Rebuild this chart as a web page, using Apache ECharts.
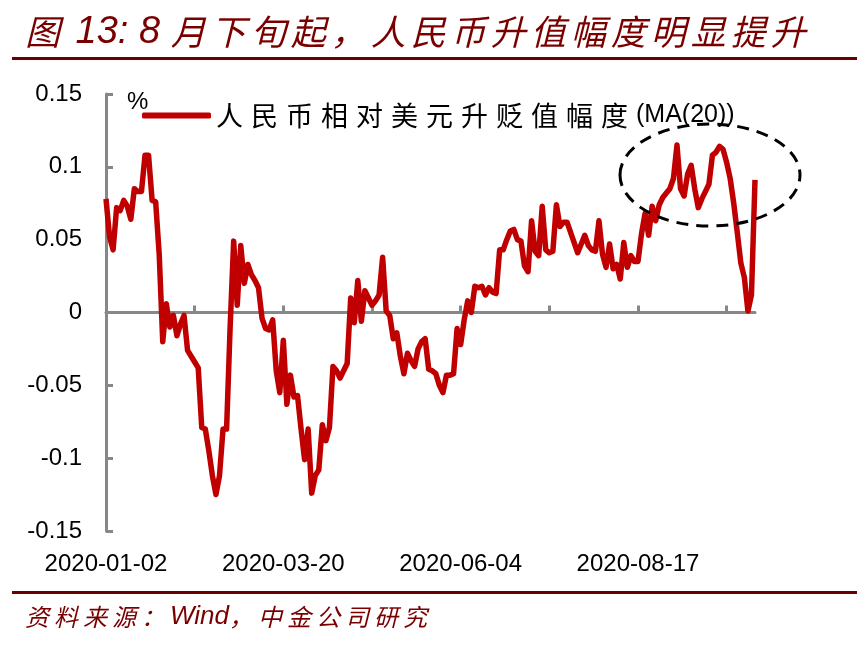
<!DOCTYPE html>
<html>
<head>
<meta charset="utf-8">
<script src="https://cdn.jsdelivr.net/npm/echarts@6/dist/echarts.min.js"></script>
<style>
html,body{margin:0;padding:0;background:#fff;}
#chart{width:867px;height:645px;}
</style>
</head>
<body>
<div id="chart"></div>
<script>
// ---- data ----
const seriesName = '人民币相对美元升贬值幅度(MA(20))';
const startDate = '2020-01-02';
const endDate = '2020-10-09';
const holidays = ['2020-01-01','2020-01-24','2020-01-27','2020-01-28','2020-01-29','2020-01-30','2020-01-31',
  '2020-04-06','2020-05-01','2020-05-04','2020-05-05','2020-06-25','2020-06-26',
  '2020-10-01','2020-10-02','2020-10-05','2020-10-06','2020-10-07','2020-10-08'];
const values = [
  0.078,0.052,0.043,0.072,0.070,0.077,0.073,0.064,0.085,0.083,
  0.083,0.108,0.108,0.077,0.076,0.040,-0.020,0.006,-0.010,-0.002,
  -0.016,-0.008,-0.002,-0.026,-0.030,-0.034,-0.038,-0.079,-0.080,-0.095,
  -0.112,-0.125,-0.112,-0.080,-0.080,-0.010,0.049,0.005,0.046,0.020,
  0.033,0.026,0.022,0.017,-0.004,-0.011,-0.012,-0.005,-0.040,-0.055,
  -0.019,-0.063,-0.043,-0.058,-0.057,-0.080,-0.101,-0.080,-0.124,-0.112,
  -0.108,-0.077,-0.088,-0.079,-0.037,-0.040,-0.045,-0.040,-0.035,0.010,
  -0.007,0.022,-0.006,0.015,0.010,0.005,0.008,0.012,0.038,0.001,
  -0.002,-0.018,-0.014,-0.030,-0.042,-0.028,-0.033,-0.037,-0.025,-0.020,
  -0.018,-0.039,-0.040,-0.042,-0.050,-0.055,-0.043,-0.043,-0.042,-0.011,
  -0.022,-0.005,0.008,0.000,0.018,0.017,0.018,0.012,0.017,0.014,
  0.013,0.043,0.043,0.050,0.056,0.057,0.050,0.049,0.032,0.028,
  0.063,0.042,0.039,0.073,0.043,0.041,0.042,0.074,0.059,0.062,
  0.062,0.055,0.048,0.041,0.047,0.053,0.046,0.043,0.042,0.063,
  0.040,0.031,0.047,0.030,0.033,0.023,0.048,0.031,0.039,0.035,
  0.035,0.054,0.068,0.053,0.073,0.063,0.074,0.079,0.082,0.085,
  0.092,0.115,0.085,0.080,0.095,0.101,0.085,0.072,0.078,0.083,
  0.088,0.108,0.110,0.114,0.112,0.103,0.092,0.075,0.055,0.034,
  0.024,0.001,0.012,0.091
];
const yTicks = [-0.15,-0.1,-0.05,0,0.05,0.1,0.15];
const titleText = '图 13: 8 月下旬起，人民币升值幅度明显提升';
const sourceText = '资料来源：Wind，中金公司研究';

// trading-day categories
function buildDates(){
  const out=[];
  const d=new Date(startDate+'T00:00:00Z');
  const end=new Date(endDate+'T00:00:00Z');
  while(d<=end){
    const s=d.toISOString().slice(0,10);
    const wd=d.getUTCDay();
    if(wd!==0&&wd!==6&&holidays.indexOf(s)<0) out.push(s);
    d.setUTCDate(d.getUTCDate()+1);
  }
  return out;
}
const dates = buildDates();

const RED='#C00000', DARK='#7A0000', AXIS='#878787';
function isCJK(ch){return /[\u3000-\u9fff\uff00-\uffef]/.test(ch);}
function richify(str, cjk, lat){
  let out='', buf='';
  for(const ch of Array.from(str)){
    if(isCJK(ch)){ if(buf){out+='{'+lat+'|'+buf+'}';buf='';} out+='{'+cjk+'|'+ch+'}'; }
    else buf+=ch;
  }
  if(buf) out+='{'+lat+'|'+buf+'}';
  return out;
}

const chart = echarts.init(document.getElementById('chart'), null, {renderer:'canvas'});
chart.setOption({
  backgroundColor:'#fff',
  animation:false,
  title:[{
    text: richify(titleText,'k','n'),
    left: 20, top: 5,
    textStyle:{
      fontWeight:'normal',
      rich:{
        k:{fontFamily:'Noto Sans CJK SC',fontSize:35,fontStyle:'italic',fontWeight:'normal',color:DARK,width:40,lineHeight:44},
        n:{fontFamily:'Liberation Sans',fontSize:38,fontStyle:'italic',fontWeight:'normal',color:DARK,lineHeight:44}
      }
    }
  },{
    text: richify(sourceText,'k','n'),
    left: 20, top: 597,
    textStyle:{
      fontWeight:'normal',
      rich:{
        k:{fontFamily:'Noto Sans CJK SC',fontSize:24,fontStyle:'italic',fontWeight:'normal',color:DARK,width:29,lineHeight:30},
        n:{fontFamily:'Liberation Sans',fontSize:26,fontStyle:'italic',fontWeight:'normal',color:DARK,lineHeight:30}
      }
    }
  }],
  legend:{
    left:137, top:97,
    icon:'roundRect', itemWidth:69, itemHeight:6, itemGap:10,
    formatter:function(n){return richify(n,'c','a');},
    textStyle:{
      color:'#000',
      rich:{
        c:{fontFamily:'Noto Sans CJK SC',fontSize:27,width:35,color:'#000'},
        a:{fontFamily:'Liberation Sans',fontSize:25,color:'#000'}
      }
    },
    data:[seriesName]
  },
  grid:{left:106,right:112,top:94,bottom:114,containLabel:false},
  xAxis:[{
    type:'category', data:dates, boundaryGap:false,
    axisLine:{show:true,onZero:true,lineStyle:{color:AXIS,width:3}},
    axisTick:{show:true,inside:true,length:7,interval:24,lineStyle:{color:AXIS,width:3}},
    axisLabel:{show:false},
    splitLine:{show:false}
  },{
    type:'category', data:dates, boundaryGap:false, position:'bottom',
    axisLine:{show:false,onZero:false}, axisTick:{show:false},
    axisLabel:{show:true,interval:49,margin:21,fontFamily:'Liberation Sans',fontSize:24,color:'#000'},
    splitLine:{show:false}
  }],
  yAxis:{
    type:'value', min:yTicks[0], max:yTicks[yTicks.length-1], interval:0.05,
    name:'%', nameLocation:'end', nameGap:-8,
    nameTextStyle:{fontFamily:'Liberation Sans',fontSize:24,color:'#000',align:'left',verticalAlign:'middle',padding:[0,0,0,21]},
    axisLine:{show:true,lineStyle:{color:AXIS,width:3}},
    axisTick:{show:true,inside:true,length:7,lineStyle:{color:AXIS,width:3}},
    axisLabel:{margin:24,fontFamily:'Liberation Sans',fontSize:24,color:'#000'},
    splitLine:{show:false}
  },
  series:[{
    name:seriesName, type:'line', xAxisIndex:0, data:values,
    showSymbol:false, symbol:'none',
    itemStyle:{color:RED},
    lineStyle:{color:RED,width:5.5,join:'round'}
  }],
  graphic:[
    {type:'rect',shape:{x:12,y:57,width:845,height:3},style:{fill:'#6B0000'}},
    {type:'rect',shape:{x:12,y:591,width:845,height:3},style:{fill:'#6B0000'}},
    {type:'ellipse',z:100,shape:{cx:710,cy:175,rx:90,ry:51},style:{fill:null,stroke:'#000',lineWidth:3,lineDash:[12,8]}}
  ]
});
</script>
</body>
</html>
